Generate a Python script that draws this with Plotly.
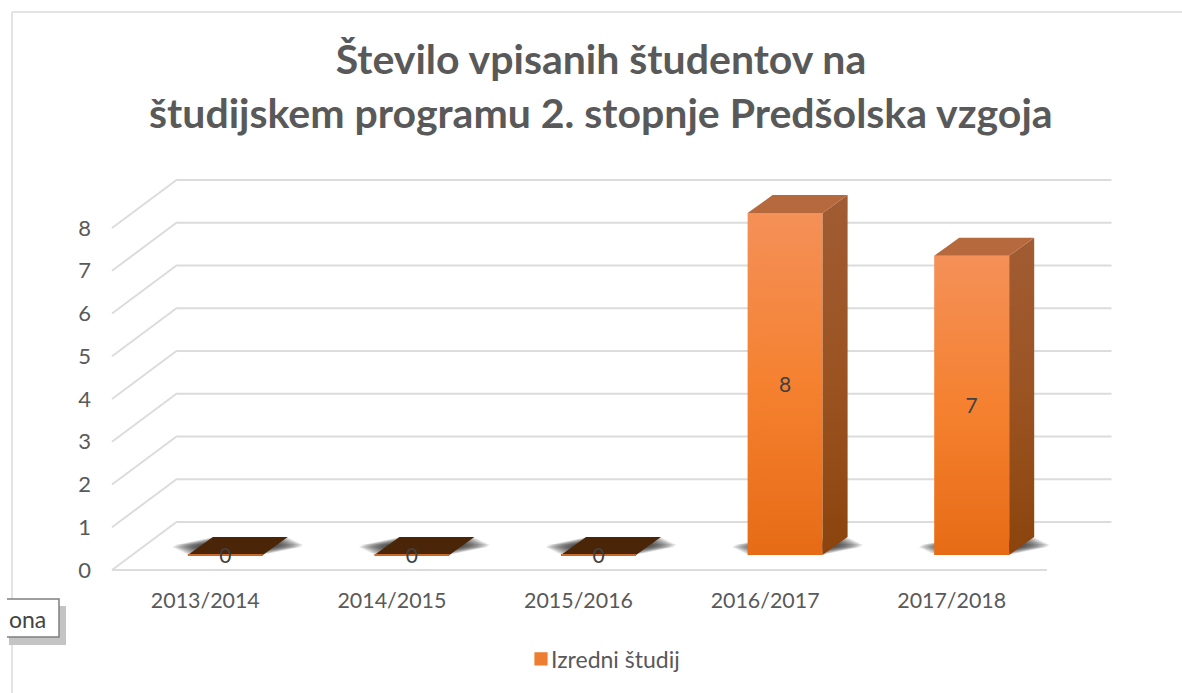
import plotly.graph_objects as go

# ---- data ----
categories = ["2013/2014", "2014/2015", "2015/2016", "2016/2017", "2017/2018"]
values = [0, 0, 0, 8, 7]
series_name = "Izredni študij"
y_ticks = [0, 1, 2, 3, 4, 5, 6, 7, 8]
title_lines = ["Število vpisanih študentov na", "študijskem programu 2. stopnje Predšolska vzgoja"]

# ---- canvas / projection of the pseudo-3D box ----
W, H = 1182, 693
PX_CAT = 186.6      # px per category
PX_VAL = 42.75      # px per unit
FRONT_X0 = 112.0    # px of the front-left floor corner
FRONT_Y0 = 570.0    # px of the front floor line
PAD = 4.0           # small pad so strokes on the edge are not clipped
DEPTH_X = 64.5 / PX_CAT
DEPTH_Y = 48.0 / PX_VAL
BAR_W = 75.0 / PX_CAT
BAR_SHIFT_X = 20.0 / PX_CAT
BAR_BASE = 15.0 / PX_VAL
BAR_DX = 25.0 / PX_CAT
BAR_DY = 18.0 / PX_VAL
LABEL_DROP = 2.5 / PX_VAL
TXT = "#595959"
FONT = "Lato"
GRID = "#dcdcdc"

xr = [-0.5 - PAD / PX_CAT, -0.5 + (W - FRONT_X0) / PX_CAT]
yr = [-PAD / PX_VAL, FRONT_Y0 / PX_VAL]
pos = list(range(len(categories)))
front_x = [p + BAR_SHIFT_X for p in pos]
xmin, xmax = -0.5, len(categories) - 0.5 + 2 / PX_CAT


def px(x):
    return x / W


def py(y):
    return 1 - y / H


shapes = []
# floor / wall grid lines from the value axis
for v in y_ticks:
    path = f"M{xmin},{v} L{xmin + DEPTH_X},{v + DEPTH_Y} L{xmax + DEPTH_X},{v + DEPTH_Y}"
    shapes.append(dict(type="path", xref="x", yref="y", path=path, layer="below",
                       line=dict(color=GRID, width=2)))
shapes.append(dict(type="line", xref="x", yref="y", x0=xmin, x1=xmax, y0=0, y1=0, layer="below",
                   line=dict(color=GRID, width=2)))

# soft contact shadows, one stack per bar: outer layers are wider and flatter
N_SHADOW = 12
for cx in front_x:
    x0, x1 = cx - BAR_W / 2, cx + BAR_W / 2
    for k in range(1, N_SHADOW + 1):
        f = k / N_SHADOW
        e = f * 26 / PX_CAT
        s = 0.42 * f
        ylo, yhi = BAR_BASE + BAR_DY * s, BAR_BASE + BAR_DY * (1 - s)
        path = (f"M{x0 + BAR_DX * s - e},{ylo} L{x1 + BAR_DX * s + e},{ylo} "
                f"L{x1 + BAR_DX * (1 - s) + e},{yhi} L{x0 + BAR_DX * (1 - s) - e},{yhi} Z")
        shapes.append(dict(type="path", xref="x", yref="y", path=path, layer="below",
                           fillcolor="rgba(40,40,40,0.11)", line=dict(width=0)))

# chart-area frame and the clipped tooltip box
shapes += [
    dict(type="line", xref="paper", yref="paper", x0=px(12), x1=1, y0=py(12), y1=py(12),
         line=dict(color="#e3e3e3", width=2)),
    dict(type="line", xref="paper", yref="paper", x0=px(12), x1=px(12), y0=py(12), y1=0,
         line=dict(color="#e3e3e3", width=2)),
    dict(type="rect", xref="paper", yref="paper", x0=px(9), x1=px(66), y0=py(606), y1=py(645),
         fillcolor="#c4c4c4", line=dict(width=0), layer="above"),
    dict(type="rect", xref="paper", yref="paper", x0=px(7), x1=px(59), y0=py(599), y1=py(637),
         fillcolor="white", line=dict(width=0), layer="above"),
    dict(type="path", xref="paper", yref="paper", layer="above",
         path=f"M{px(7)},{py(599)} L{px(59)},{py(599)} L{px(59)},{py(637)} L{px(7)},{py(637)}",
         line=dict(color="#7f7f7f", width=1.5)),
]

fig = go.Figure()

# side faces (first scatter traces; gradient is applied after drawing)
for cx, v in zip(front_x, values):
    x1 = cx + BAR_W / 2
    b, t = BAR_BASE, BAR_BASE + v
    fig.add_trace(go.Scatter(
        x=[x1, x1 + BAR_DX, x1 + BAR_DX, x1, x1],
        y=[b, b + BAR_DY, t + BAR_DY, t, b],
        mode="none", fill="toself", fillcolor="#96501f" if v else "rgba(0,0,0,0)",
        showlegend=False, hoverinfo="skip"))

# top faces
for cx, v in zip(front_x, values):
    x0, x1 = cx - BAR_W / 2, cx + BAR_W / 2
    t = BAR_BASE + v
    fig.add_trace(go.Scatter(
        x=[x0, x1, x1 + BAR_DX, x0 + BAR_DX, x0],
        y=[t, t, t + BAR_DY, t + BAR_DY, t],
        mode="none", fill="toself", fillcolor="#b6693c" if v else "#4a2508",
        showlegend=False, hoverinfo="skip"))

# the thin orange front edge of bars of height 0
for cx, v in zip(front_x, values):
    if v == 0:
        fig.add_trace(go.Scatter(
            x=[cx - BAR_W / 2, cx + BAR_W / 2], y=[BAR_BASE, BAR_BASE], mode="lines",
            line=dict(color="#c96a2c", width=2), showlegend=False, hoverinfo="skip"))

# front faces
fig.add_trace(go.Bar(
    x=front_x, y=values, base=[BAR_BASE] * len(values), width=BAR_W, name=series_name,
    marker=dict(color="#ed7d31", line=dict(width=0)), showlegend=True))

# data labels at the middle of each bar
fig.add_trace(go.Scatter(
    x=front_x, y=[BAR_BASE + v / 2 - LABEL_DROP for v in values], mode="text",
    text=[str(v) for v in values], textposition="middle center",
    textfont=dict(family=FONT, size=21, color="#404040"),
    showlegend=False, hoverinfo="skip"))

annotations = [
    dict(text=title_lines[1], xref="paper", yref="paper", x=px(601), y=py(112), showarrow=False,
         xanchor="center", yanchor="middle", font=dict(family=FONT, size=41, color=TXT, weight="bold")),
    dict(text="ona", xref="paper", yref="paper", x=px(7), y=py(619), showarrow=False,
         xanchor="left", yanchor="middle", font=dict(family=FONT, size=23, color="#444444")),
]

fig.update_layout(
    width=W, height=H, margin=dict(l=0, r=0, t=0, b=0), autosize=False,
    paper_bgcolor="white", plot_bgcolor="white", barmode="overlay",
    title=dict(text=title_lines[0], x=px(601), xanchor="center", xref="paper",
               y=py(60), yanchor="middle", yref="paper",
               font=dict(family=FONT, size=41, color=TXT, weight="bold")),
    xaxis=dict(domain=[(FRONT_X0 - PAD) / W, 1], range=xr, tickmode="array", tickvals=pos,
               ticktext=categories, showgrid=False, zeroline=False, showline=False, ticks="",
               automargin=False,
               ticklabelstandoff=12, tickfont=dict(family=FONT, size=21.4, color=TXT)),
    yaxis=dict(domain=[(H - FRONT_Y0 - PAD) / H, 1], range=yr, tickmode="array", tickvals=y_ticks,
               showgrid=False, zeroline=False, showline=False, ticks="",
               automargin=False,
               ticklabelstandoff=16, tickfont=dict(family=FONT, size=22, color=TXT)),
    legend=dict(orientation="v", x=px(511), y=py(659), xanchor="left", yanchor="middle",
                bgcolor="rgba(0,0,0,0)", font=dict(family=FONT, size=23, color=TXT)),
    shapes=shapes, annotations=annotations,
)

post = """
document.body.style.margin='0';
document.documentElement.style.overflow='hidden';
var svg=document.querySelector('.main-svg');
var NS='http://www.w3.org/2000/svg';
var defs=svg.querySelector('defs')||svg.appendChild(document.createElementNS(NS,'defs'));
function grad(id,stops){
  var g=document.createElementNS(NS,'linearGradient');
  g.setAttribute('id',id);g.setAttribute('x1','0');g.setAttribute('y1','0');
  g.setAttribute('x2','0');g.setAttribute('y2','1');
  stops.forEach(function(s){var e=document.createElementNS(NS,'stop');
    e.setAttribute('offset',s[0]);e.setAttribute('stop-color',s[1]);g.appendChild(e);});
  defs.appendChild(g);
}
grad('frontGrad',[[0,'#f49058'],[0.5,'#f58130'],[1,'#e76b15']]);
grad('sideGrad',[[0,'#a15c33'],[0.5,'#9b5322'],[1,'#8c440e']]);
document.querySelectorAll('.bars .point path').forEach(function(p){p.style.fill='url(#frontGrad)';});
var tr=document.querySelectorAll('.scatterlayer .trace');
[3,4].forEach(function(i){var f=tr[i].querySelector('.js-fill');if(f)f.style.fill='url(#sideGrad)';});
document.querySelectorAll('.legend .legendpoints path').forEach(function(p){p.setAttribute('transform','translate(30,0) scale(1.1)');});
"""

fig.write_html("out.html", post_script=post, config=dict(displayModeBar=False))
